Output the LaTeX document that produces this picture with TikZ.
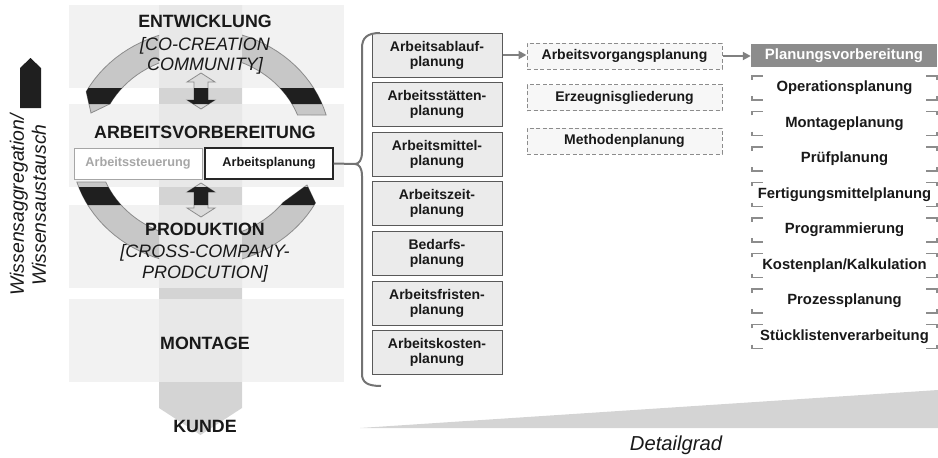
\documentclass[tikz,border=0pt]{standalone}
\usepackage{fontspec}
\setmainfont{Liberation Sans}
\usetikzlibrary{arrows.meta}
\pgfdeclarelayer{bg}
\pgfsetlayers{bg,main}
\newcommand{\uparc}{plot[domain=15.7:152,samples=40] ({201+130*cos(\x)},{147-118*sin(\x)}) -- (91,113) -- plot[domain=152:20.4,samples=40] ({201+103*cos(\x)},{147-92*sin(\x)}) -- cycle}
\newcommand{\lowarc}{plot[domain=197.3:331.7,samples=40] ({201+130*cos(\x)},{147-118*sin(\x)}) -- (307,185) -- plot[domain=323:202.4,samples=40] ({201+103*cos(\x)},{147-92*sin(\x)}) -- cycle}
\tikzset{
    every node/.style={inner sep=0pt, text=black!90}
}
\tikzset{
    band/.style={fill=black!6.5, fill opacity=.79},
    column/.style={fill=black!17},
    ring/.style={fill=black!22, draw=black!45, line width=.8pt},
    dblarrow/.style={fill=black!14, draw=black!45, line width=.8pt},
    stagehead/.style={font=\bfseries\fontsize{17.8}{20}\selectfont, anchor=base},
    stagesub/.style={font=\itshape\fontsize{18}{20}\selectfont, anchor=base},
    smallbox/.style={fill=white, line width=1pt, minimum width=128pt, minimum height=31pt, font=\bfseries\fontsize{12.7}{14}\selectfont},
    midbox/.style={draw=black!65, fill=black!8, line width=1pt, minimum width=130pt, minimum height=44pt, align=center, font=\bfseries\fontsize{14}{15}\selectfont},
    dashbox/.style={draw=black!45, dash pattern=on 4pt off 2.5pt, fill=black!3, line width=1pt, minimum width=195pt, minimum height=26pt, font=\bfseries\fontsize{14}{15}\selectfont},
    headbox/.style={fill=black!45, minimum width=186pt, minimum height=23pt, text=white, font=\bfseries\fontsize{14.9}{16}\selectfont},
    listitem/.style={minimum width=185pt, minimum height=24pt, font=\bfseries\fontsize{14.8}{16}\selectfont},
    corner/.style={draw=black!45, line width=1.5pt},
    link/.style={draw=black!50, line width=2pt, -{Triangle[length=8pt,width=8pt]}},
    brace/.style={draw=black!55, line width=2pt}
}
\begin{document}
\begin{tikzpicture}[x=1pt, y=-1pt]
        \useasboundingbox (0,0) rectangle (938,458);
        \begin{pgfonlayer}{bg}
                \fill[column] (159,5) -- (242,5) -- (242,408) -- (200.5,435) -- (159,408) -- cycle;
                \foreach \y in {5,104,205,299}
                        \fill[band] (69,\y) rectangle (344,\y+83);
                \fill[black!17] (360,428) -- (938,390) -- (938,428) -- cycle;
        \end{pgfonlayer}
        \begin{scope}
                \clip (0,0) rectangle (159,458) (242,0) rectangle (938,458);
                \filldraw[ring] \uparc;
                \filldraw[ring] \lowarc;
        \end{scope}
        \foreach \t/\b in {73/109, 183/217}
                \filldraw[dblarrow] (201,\t) -- (215,\t+9) -- (208,\t+9) -- (208,\b-9) -- (215,\b-9) -- (201,\b) -- (187,\b-9) -- (194,\b-9) -- (194,\t+9) -- (187,\t+9) -- cycle;
        \begin{scope}
                \clip (60,88) rectangle (350,104) (60,187) rectangle (350,205);
                \fill[black!88] \uparc;
                \fill[black!88] \lowarc;
                \foreach \t/\b in {73/109, 183/217}
                        \fill[black!88] (201,\t) -- (215,\t+9) -- (208,\t+9) -- (208,\b-9) -- (215,\b-9) -- (201,\b) -- (187,\b-9) -- (194,\b-9) -- (194,\t+9) -- (187,\t+9) -- cycle;
        \end{scope}
        \fill[black!88] (20,68) -- (30.5,58) -- (41,68) -- (41,108) -- (20,108) -- cycle;
        \node (wissen) [rotate=90, align=center, font=\itshape\fontsize{19.4}{22}\selectfont] at (28,205) {Wissensaggregation/\\Wissensaustausch};
        \node (entw) [stagehead] at (205,27.5) {ENTWICKLUNG};
        \node (entwa) [stagesub] at (205,50) {[CO-CREATION};
        \node (entwb) [stagesub] at (205,70) {COMMUNITY]};
        \node (avb) [stagehead] at (205,138.3) {ARBEITSVORBEREITUNG};
        \node (steuer) [smallbox, draw=black!35, text=black!35] at (138,163.5) {Arbeitssteuerung};
        \node (planung) [smallbox, draw=black!85, line width=1.2pt] at (269,163.5) {Arbeitsplanung};
        \node (prod) [stagehead] at (205,235) {PRODUKTION};
        \node (proda) [stagesub] at (205,257) {[CROSS-COMPANY-};
        \node (prodb) [stagesub] at (205,278) {PRODCUTION]};
        \node (mont) [stagehead] at (205,349) {MONTAGE};
        \node (kunde) [stagehead] at (205,432.7) {KUNDE};
        \node (m1) [midbox] at (437,55) {Arbeitsablauf-\\planung};
        \node (m2) [midbox] at (437,104.6) {Arbeitsstätten-\\planung};
        \node (m3) [midbox] at (437,154.2) {Arbeitsmittel-\\planung};
        \node (m4) [midbox] at (437,203.8) {Arbeitszeit-\\planung};
        \node (m5) [midbox] at (437,253.4) {Bedarfs-\\planung};
        \node (m6) [midbox] at (437,303) {Arbeitsfristen-\\planung};
        \node (m7) [midbox] at (437,352.6) {Arbeitskosten-\\planung};
        \node (d1) [dashbox] at (624.5,56) {Arbeitsvorgangsplanung};
        \node (d2) [dashbox] at (624.5,97.5) {Erzeugnisgliederung};
        \node (d3) [dashbox] at (624.5,141) {Methodenplanung};
        \node (pv) [headbox] at (844,55.5) {Planungsvorbereitung};
        \node (r1) [listitem] at (844.5,88) {Operationsplanung};
        \node (r2) [listitem] at (844.5,123.5) {Montageplanung};
        \node (r3) [listitem] at (844.5,159) {Prüfplanung};
        \node (r4) [listitem] at (844.5,194.5) {Fertigungsmittelplanung};
        \node (r5) [listitem] at (844.5,230) {Programmierung};
        \node (r6) [listitem] at (844.5,265.5) {Kostenplan/Kalkulation};
        \node (r7) [listitem] at (844.5,301) {Prozessplanung};
        \node (r8) [listitem] at (844.5,336.5) {Stücklistenverarbeitung};
        \node (detail) [anchor=base, font=\itshape\fontsize{20.2}{22}\selectfont] at (676,450) {Detailgrad};
        \coordinate (cusp) at (355,164);
        \draw[brace] (380,33) .. controls (367,33) and (362,38) .. (362,48) -- (362,152) .. controls (362,160) and (359,164) .. (cusp) .. controls (359,164) and (362,168) .. (362,176) -- (362,374) .. controls (362,382) and (367,386) .. (381,386);
        \draw[brace] (planung.east) -- (cusp);
        \draw[link] (m1.east) -- (m1.east -| d1.west);
        \draw[link] (d1.east) -- (d1.east -| pv.west);
        \foreach \n in {r1,r2,r3,r4,r5,r6,r7,r8} {
                \draw[corner] (\n.north west) ++(0,4) -- ++(0,-4) -- ++(11,0);
                \draw[corner] (\n.south west) ++(0,-4) -- ++(0,4) -- ++(11,0);
                \draw[corner] (\n.north east) ++(-11,0) -- ++(11,0) -- ++(0,4);
                \draw[corner] (\n.south east) ++(-11,0) -- ++(11,0) -- ++(0,-4);
        }
\end{tikzpicture}
\end{document}
